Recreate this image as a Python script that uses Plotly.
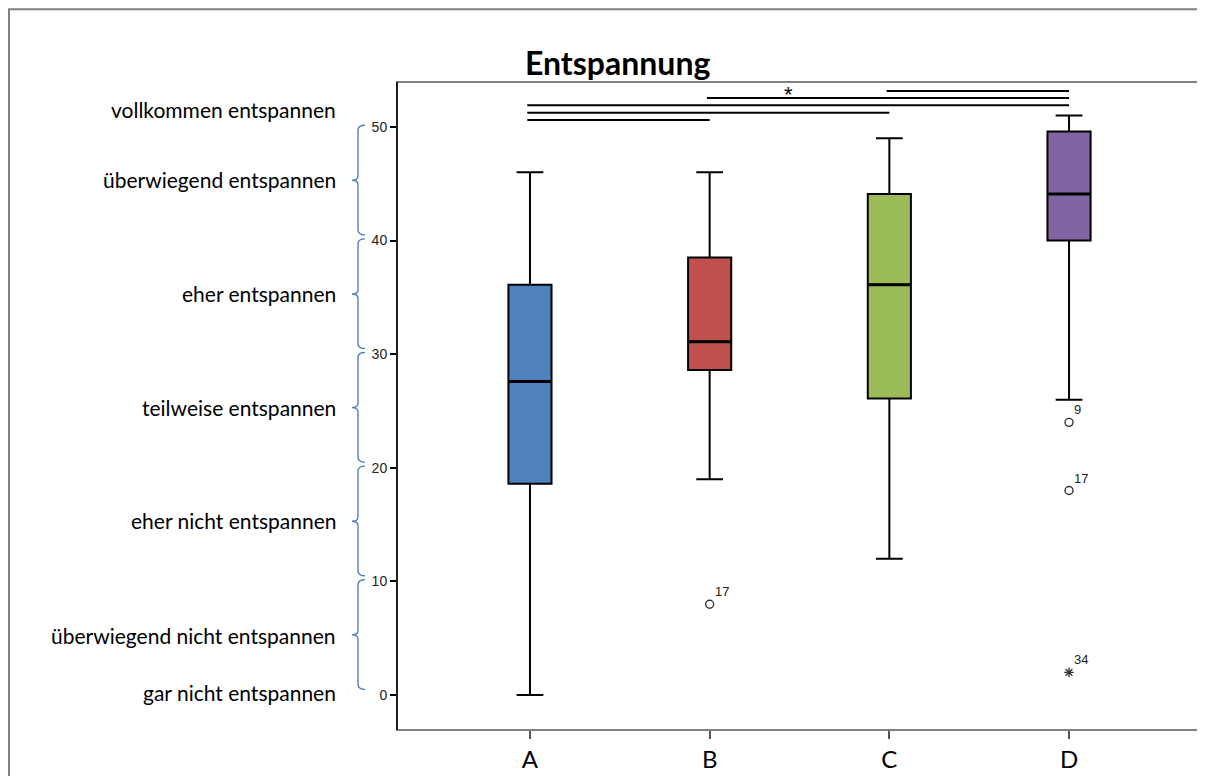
import plotly.graph_objects as go

# ---------------- data ----------------
categories = ["A", "B", "C", "D"]
box_colors = ["#4F81BD", "#C0504D", "#9BBB59", "#8064A2"]
lower_whisker = [0.0, 19.0, 12.0, 26.0]
q1 = [18.6, 28.6, 26.1, 40.0]
median = [27.6, 31.1, 36.1, 44.1]
q3 = [36.1, 38.5, 44.1, 49.6]
upper_whisker = [46.0, 46.0, 49.0, 51.0]

# outliers: (category, value, case label)
outlier_cat = ["B", "D", "D"]
outlier_val = [8.0, 24.0, 18.0]
outlier_lbl = ["17", "9", "17"]
extreme_cat = ["D"]
extreme_val = [2.0]
extreme_lbl = ["34"]

# significance comparisons (from, to, level)
sig_from = ["C", "B", "A", "A", "A"]
sig_to = ["D", "D", "D", "C", "B"]
sig_level = [53.15, 52.55, 51.9, 51.25, 50.6]

y_ticks = [0, 10, 20, 30, 40, 50]
scale_labels = ["vollkommen entspannen", "überwiegend entspannen", "eher entspannen",
                "teilweise entspannen", "eher nicht entspannen",
                "überwiegend nicht entspannen", "gar nicht entspannen"]
scale_label_y = [51.5, 45.35, 35.35, 25.35, 15.35, 5.26, 0.26]
bracket_bottoms = [0, 10, 20, 30, 40]

title = "Entspannung"

# ---------------- figure ----------------
OFF = 8  # page body margin
W, H = 1197, 768
L, R, T, B = 389, 3, 74, 44
pw = W - L - R
ph = H - T - B
idx = {c: i for i, c in enumerate(categories)}
x_range = [-0.74, 3.74]
y_range = [-3.07, 53.95]

def px_x(p):
    return (p - OFF - L) / pw

def px_y(p):
    return 1 - (p - OFF - T) / ph

fig = go.Figure()

for i, c in enumerate(categories):
    fig.add_trace(go.Box(
        x=[i], q1=[q1[i]], median=[median[i]], q3=[q3[i]],
        lowerfence=[lower_whisker[i]], upperfence=[upper_whisker[i]],
        fillcolor=box_colors[i], line=dict(color="black", width=2),
        width=0.24, whiskerwidth=0.62, boxpoints=False, showlegend=False,
        hoverinfo="skip",
    ))

fig.add_trace(go.Scatter(
    x=[idx[c] for c in outlier_cat], y=outlier_val, mode="markers",
    marker=dict(symbol="circle-open", size=8, color="#333333", line=dict(width=1.4)),
    showlegend=False, hoverinfo="skip"))
fig.add_trace(go.Scatter(
    x=[idx[c] for c in extreme_cat], y=extreme_val, mode="markers",
    marker=dict(symbol="asterisk-open", size=8, color="#333333", line=dict(width=1.3)),
    showlegend=False, hoverinfo="skip"))

annotations = []
for c, v, t in list(zip(outlier_cat, outlier_val, outlier_lbl)) + list(zip(extreme_cat, extreme_val, extreme_lbl)):
    annotations.append(dict(x=idx[c], y=v, text=t, showarrow=False, xanchor="left", yanchor="bottom",
                            xshift=3, yshift=3, font=dict(family="Liberation Sans", size=13, color="#222222")))

shapes = []
# thicker median lines
for i, m in enumerate(median):
    shapes.append(dict(type="line", xref="x", yref="y", x0=i - 0.12, x1=i + 0.12, y0=m, y1=m,
                       line=dict(color="black", width=3)))
# significance bars
for a, b, lv in zip(sig_from, sig_to, sig_level):
    shapes.append(dict(type="line", xref="x", yref="y", x0=idx[a] - 0.015, x1=idx[b], y0=lv, y1=lv,
                       line=dict(color="black", width=2)))
annotations.append(dict(x=1.44, y=sig_level[0], text="*", showarrow=False, xanchor="center", yanchor="middle",
                        yshift=-3, font=dict(family="Liberation Sans", size=22, color="black")))

# plot frame (gray) and left axis (black)
shapes.append(dict(type="rect", xref="paper", yref="paper", x0=0, x1=1, y0=0, y1=1,
                   line=dict(color="#808080", width=2), layer="above"))
shapes.append(dict(type="line", xref="paper", yref="paper", x0=0, x1=0, y0=0, y1=1,
                   line=dict(color="black", width=1.5), layer="above"))
# outer frame
shapes.append(dict(type="rect", xref="paper", yref="paper",
                   x0=px_x(9), x1=px_x(1230), y0=px_y(800), y1=px_y(9),
                   line=dict(color="#808080", width=2), layer="below"))

# curly brackets
xl = px_x(358)
xh = px_x(365)
xt = px_x(352)
for b0 in bracket_bottoms:
    top = b0 + 10.15
    bot = b0 + 0.5
    mid = b0 + 5.3
    d = (f"M {xh},{top} Q {xl},{top} {xl},{top-0.45} L {xl},{mid+0.4} "
         f"Q {xl},{mid} {xt},{mid} Q {xl},{mid} {xl},{mid-0.4} "
         f"L {xl},{bot+0.45} Q {xl},{bot} {xh},{bot}")
    shapes.append(dict(type="path", xref="paper", yref="y", path=d,
                       line=dict(color="#4F81BD", width=1.4)))

# scale labels
for t, yv in zip(scale_labels, scale_label_y):
    annotations.append(dict(x=px_x(338), y=yv, xref="paper", yref="y", text=t, showarrow=False,
                            xanchor="right", yanchor="middle",
                            font=dict(family="Lato", size=21, color="black")))

# title
annotations.append(dict(x=px_x(617), y=px_y(62), xref="paper", yref="paper", text=f"<b>{title}</b>",
                        showarrow=False, xanchor="center", yanchor="middle",
                        font=dict(family="Lato", size=32, color="black")))

fig.update_layout(
    width=W, height=H,
    margin=dict(l=L, r=R, t=T, b=B, pad=0),
    paper_bgcolor="white", plot_bgcolor="white",
    shapes=shapes, annotations=annotations,
    boxmode="overlay",
    xaxis=dict(range=x_range, tickvals=list(range(len(categories))), ticktext=categories,
               showgrid=False, zeroline=False, showline=False,
               ticks="outside", ticklen=8, tickwidth=1.5, tickcolor="#555555",
               tickfont=dict(family="Lato", size=24, color="black")),
    yaxis=dict(range=y_range, tickvals=y_ticks, showgrid=False, zeroline=False, showline=False,
               ticks="outside", ticklen=6, tickwidth=1.5, tickcolor="black",
               tickfont=dict(family="Liberation Sans", size=14, color="#222222")),
)

fig.write_html("out.html")
